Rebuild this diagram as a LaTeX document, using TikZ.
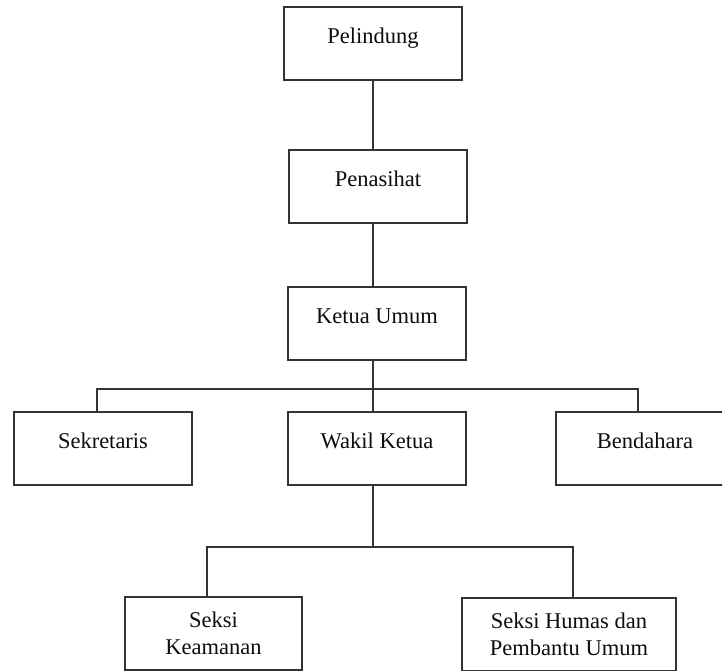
\documentclass[tikz,border=0pt]{standalone}
\usepackage{fontspec}
\setmainfont{Liberation Serif}
\begin{document}
\begin{tikzpicture}[x=1pt,y=-1pt,
  orgbox/.style={draw=black!80, line width=1.1pt, rectangle, inner sep=0pt,
    minimum height=73pt, text=black!95, font=\fontsize{22.5}{27.5}\selectfont},
  oneline/.style={text height=16pt, text depth=17pt},
  twoline/.style={align=center},
  conn/.style={draw=black!80, line width=1.1pt}]
\useasboundingbox (0,0) rectangle (722,670);
\clip (0,0) rectangle (722,670);
\fill[white] (0,0) rectangle (722,670);

\node[orgbox, oneline, minimum width=178pt] (pel) at (373,43.5) {Pelindung};
\node[orgbox, oneline, minimum width=178pt] (pen) at (378,186.5) {Penasihat};
\node[orgbox, oneline, minimum width=178pt] (ket) at (377,323.5) {Ketua Umum};
\node[orgbox, oneline, minimum width=178pt] (sek) at (103,448.5) {Sekretaris};
\node[orgbox, oneline, minimum width=178pt] (wak) at (377,448.5) {Wakil Ketua};
\node[orgbox, oneline, minimum width=178pt] (ben) at (645,448.5) {Bendahara};
\node[orgbox, twoline, minimum width=177pt] (kea) at (213.5,633.5) {Seksi\\Keamanan};
\node[orgbox, twoline, minimum width=214pt] (hum) at (569,634.5) {Seksi Humas dan\\Pembantu Umum};

\coordinate (sx) at (373,0);
\coordinate (xs) at (97,0);
\coordinate (xb) at (638,0);
\coordinate (xk) at (207,0);
\coordinate (xh) at (573,0);
\coordinate (bus1) at (0,389);
\coordinate (bus2) at (0,547);

\draw[conn] (pel.south -| sx) -- (pen.north -| sx);
\draw[conn] (pen.south -| sx) -- (ket.north -| sx);
\draw[conn] (ket.south -| sx) -- (wak.north -| sx);
\draw[conn] (sek.north -| xs) -- (bus1 -| xs) -- (bus1 -| xb) -- (ben.north -| xb);
\draw[conn] (wak.south -| sx) -- (bus2 -| sx);
\draw[conn] (kea.north -| xk) -- (bus2 -| xk) -- (bus2 -| xh) -- (hum.north -| xh);
\end{tikzpicture}
\end{document}
